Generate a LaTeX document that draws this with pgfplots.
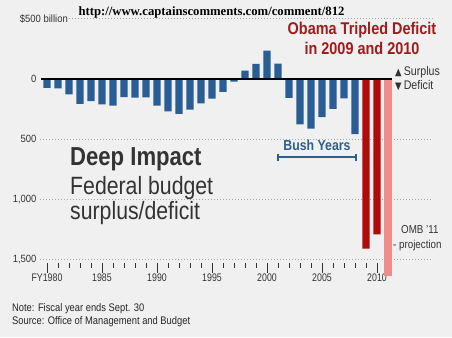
\documentclass[border=0pt]{standalone}
\usepackage{fontspec}
\usepackage{pgfplots}
\pgfplotsset{compat=1.18}
\setmainfont[FakeStretch=0.85]{Liberation Sans}
\newfontfamily\nar[FakeStretch=0.8]{Liberation Sans}
\newfontfamily\reg[FakeStretch=0.9]{Liberation Sans}
\newfontfamily\serifb{Liberation Serif}
\newfontfamily\sym[FakeStretch=0.85]{DejaVu Sans}
\definecolor{bgc}{HTML}{F0F0F0}
\definecolor{barblue}{HTML}{295D93}
\definecolor{barred}{HTML}{B00B0B}
\definecolor{barpink}{HTML}{F08C8C}
\definecolor{obamared}{HTML}{A01C1C}
\definecolor{bushblue}{HTML}{2D5F8E}
\definecolor{txt}{HTML}{333333}
\pgfplotstableread{
year val
1980 -74
1981 -79
1982 -128
1983 -208
1984 -185
1985 -212
1986 -221
1987 -150
1988 -155
1989 -153
1990 -221
1991 -269
1992 -290
1993 -255
1994 -203
1995 -164
1996 -107
1997 -22
1998 69
1999 126
2000 236
2001 128
2002 -158
2003 -378
2004 -413
2005 -318
2006 -248
2007 -161
2008 -459
}\bluedata
\pgfplotstableread{
year val
2009 -1413
2010 -1294
}\reddata
\pgfplotstableread{
year val
2011 -1645
}\pinkdata
\begin{document}
\begin{tikzpicture}
\fill[bgc] (0,0) rectangle (452pt,-337pt);
\begin{axis}[
  at={(40pt,-263pt)}, anchor=south west,
  scale only axis, width=393pt, height=244pt,
  xmin=1979.364, xmax=2015.09, ymin=-1533, ymax=500,
  axis line style={draw=none},
  clip=false,
  ybar, bar width=0.64, bar shift=0pt,
  xtick={1980,1985,...,2010},
  xticklabels={FY1980,1985,1990,1995,2000,2005,2010},
  minor xtick={1980,...,2011},
  xtick pos=bottom, ytick pos=left,
  xtick align=outside,
  major tick length=10pt, minor tick length=5pt,
  xtick style={draw=black!80, line width=0.7pt},
  minor x tick style={draw=black!80, line width=0.7pt},
  ytick={-1500,-1000,-500},
  yticklabels={{1,500},{1,000},500},
  ytick style={draw=none},
  ymajorgrids,
  grid style={black!35, dash pattern=on 1pt off 2pt, line width=1pt},
  extra y ticks={0}, extra y tick labels={0},
  extra y tick style={grid=none},
  xticklabel style={font=\nar\fontsize{11}{12}\selectfont, text=txt, yshift=3pt},
  yticklabel style={font=\reg\fontsize{10.5}{12}\selectfont, text=txt},
]
\addplot[fill=barblue, draw=none] table[x=year,y=val] {\bluedata};
\addplot[fill=barred, draw=none] table[x=year,y=val] {\reddata};
\addplot[fill=barpink, draw=none] table[x=year,y=val] {\pinkdata};
\draw[black, line width=2pt] (axis cs:1979.45,0) -- (axis cs:2011.36,0);
\draw[black!35, dash pattern=on 1pt off 2pt, line width=1pt] (axis cs:1982,500) -- (axis cs:2015.09,500);
\node[anchor=east, inner sep=1pt, text=txt, font=\reg\fontsize{10.5}{12}\selectfont] at (axis cs:1982,500) {\$500 billion};
\end{axis}
% annotations
\node[font=\serifb\bfseries\fontsize{12.7}{14}\selectfont, text=black, inner sep=0pt] at (211.5pt,-12pt) {http://www.captainscomments.com/comment/812};
\node[font=\bfseries\fontsize{17}{18}\selectfont, text=obamared, inner sep=0pt] at (362pt,-30pt) {Obama Tripled Deficit};
\node[font=\bfseries\fontsize{17}{18}\selectfont, text=obamared, inner sep=0pt] at (362pt,-48pt) {in 2009 and 2010};
\node[anchor=west, inner sep=0pt, font=\fontsize{12.5}{13}\selectfont, text=txt] at (395pt,-72pt) {{\sym\fontsize{10}{10}\selectfont ▲}\,Surplus};
\node[anchor=west, inner sep=0pt, font=\fontsize{12.5}{13}\selectfont, text=txt] at (395pt,-86pt) {{\sym\fontsize{10}{10}\selectfont ▼}\,Deficit};
\node[anchor=base west, inner sep=0pt, font=\bfseries\fontsize{26}{28}\selectfont, text=txt] at (70pt,-165pt) {Deep Impact};
\node[anchor=base west, inner sep=0pt, font=\fontsize{25}{28}\selectfont, text=txt] at (70pt,-194pt) {Federal budget};
\node[anchor=base west, inner sep=0pt, font=\fontsize{25}{28}\selectfont, text=txt] at (70pt,-219pt) {surplus/deficit};
\node[font=\bfseries\fontsize{14.5}{16}\selectfont, text=bushblue, inner sep=0pt] at (317pt,-145pt) {Bush Years};
\draw[bushblue, line width=1.2pt] (278pt,-157pt) -- (356pt,-157pt);
\draw[bushblue, line width=1.2pt] (278pt,-153.5pt) -- (278pt,-160.5pt);
\draw[bushblue, line width=1.2pt] (356pt,-153.5pt) -- (356pt,-160.5pt);
\node[anchor=west, inner sep=0pt, font=\fontsize{11.5}{12}\selectfont, text=txt] at (401pt,-230pt) {OMB '11};
\node[anchor=west, inner sep=0pt, font=\fontsize{11.5}{12}\selectfont, text=txt] at (393pt,-246pt) {- projection};
\node[anchor=base west, inner sep=0pt, font=\fontsize{11}{12}\selectfont, text=black!85] at (12pt,-311pt) {Note: Fiscal year ends Sept. 30};
\node[anchor=base west, inner sep=0pt, font=\fontsize{11}{12}\selectfont, text=black!85] at (12pt,-324pt) {Source: Office of Management and Budget};
\end{tikzpicture}
\end{document}
